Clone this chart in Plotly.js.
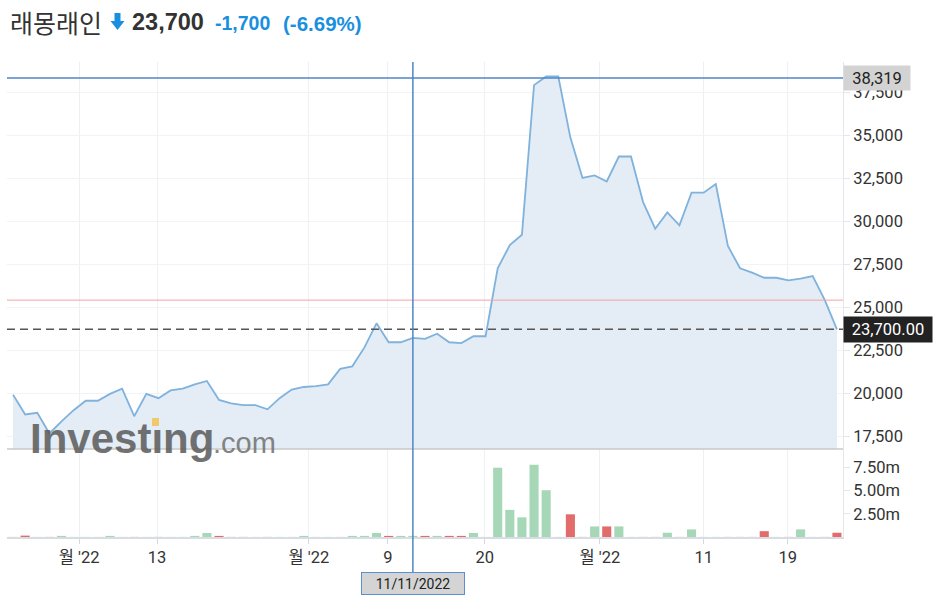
<!DOCTYPE html>
<html><head><meta charset="utf-8">
<script src="https://cdn.plot.ly/plotly-3.0.1.min.js"></script>
<style>html,body{margin:0;padding:0;background:#fff;}#chart{width:938px;height:602px;}</style>
</head><body><div id="chart"></div>
<script>
// ---- data ----
const prices = [19900, 18750, 18850, 17650, 18350, 19000, 19550, 19550, 19950, 20250,
  18650, 19950, 19700, 20150, 20250, 20500, 20700, 19600, 19400, 19300,
  19300, 19050, 19700, 20200, 20350, 20400, 20500, 21400, 21550, 22650,
  24050, 22950, 22950, 23200, 23150, 23450, 22950, 22900, 23300, 23300,
  27250, 28600, 29200, 37900, 38400, 38400, 34850, 32500, 32650, 32300,
  33750, 33750, 31100, 29550, 30500, 29750, 31650, 31650, 32150, 28550,
  27250, 27000, 26700, 26700, 26550, 26650, 26800, 25400, 23700];
// volume in millions
const volumes = [0.01, 0.15, 0.01, 0.01, 0.12, 0.01, 0.01, 0.01, 0.12, 0.01,
  0.01, 0.01, 0.01, 0.01, 0.01, 0.12, 0.43, 0.12, 0.01, 0.01,
  0.01, 0.01, 0.01, 0.01, 0.12, 0.01, 0.01, 0.01, 0.12, 0.12,
  0.43, 0.12, 0.12, 0.12, 0.12, 0.12, 0.12, 0.12, 0.43, 0.01,
  7.48, 2.93, 2.12, 7.80, 5.05, 0.01, 2.45, 0.01, 1.14, 1.14,
  1.14, 0.01, 0.01, 0.01, 0.46, 0.01, 0.82, 0.01, 0.01, 0.01,
  0.01, 0.01, 0.63, 0.01, 0.01, 0.82, 0.01, 0.01, 0.46];
const tickPositions = [5.45, 11.88, 24.42, 30.94, 38.94, 48.43, 57.01, 63.94];
const tickLabels = ["월 '22", "13", "월 '22", "9", "20", "월 '22", "11", "19"];
const priceTicks = [17500, 20000, 22500, 25000, 27500, 30000, 32500, 35000, 37500];
const volumeTicks = [2.5, 5, 7.5];
const volumeTickLabels = ["2.50m", "5.00m", "7.50m"];
const prevClose = 25400;
const lastPrice = 23700;
const crosshairIndex = 33;
const crosshairPrice = 38319;
const crosshairDate = "11/11/2022";
const stockName = "래몽래인";
const lastPriceText = "23,700";
const changeText = "-1,700";
const changePctText = "(-6.69%)";

// ---- geometry helpers ----
const W = 938, H = 602, ML = 7, MR = 95, MT = 62, MB = 65;
const plotW = W - ML - MR, plotH = H - MT - MB;
const pxX = px => (px - ML) / plotW;
const pxY = py => (H - MB - py) / plotH;
const split = pxY(449);

const idx = prices.map((_, i) => i);
const GREEN = '#a6d7b6', RED = '#e26b6b';
const barColors = prices.map((p, i) => (i > 0 && p < prices[i - 1]) ? RED : GREEN);

const FONT = "Roboto, 'Noto Sans CJK KR', sans-serif";
const BLUE = '#1a8fe0';
const CROSS = '#4d86c7';

// down-arrow icon path (paper coordinates)
const arrowPts = [[114.5,13],[120.5,13],[120.5,21],[124.5,21],[117.5,30],[110.5,21],[114.5,21]];
const arrowPath = 'M' + arrowPts.map(p => pxX(p[0]).toFixed(5) + ',' + pxY(p[1]).toFixed(5)).join(' L') + ' Z';

const traces = [
  {type: 'scatter', mode: 'lines', x: idx, y: prices, xaxis: 'x', yaxis: 'y',
   line: {color: '#7fb2dc', width: 1.8}, fill: 'tozeroy', fillcolor: '#e4edf5', hoverinfo: 'skip'},
  {type: 'bar', x: idx, y: volumes, xaxis: 'x', yaxis: 'y2',
   marker: {color: barColors, line: {width: 0}}, hoverinfo: 'skip'}
];

const tickFont = {family: FONT, size: 16.5, color: '#333'};
const layout = {
  width: W, height: H,
  margin: {l: ML, r: MR, t: MT, b: MB, pad: 0},
  paper_bgcolor: '#fff', plot_bgcolor: '#fff',
  showlegend: false, hovermode: false, bargap: 0.25,
  xaxis: {range: [-0.5, prices.length - 0.5], anchor: 'y2', tickmode: 'array',
    tickvals: tickPositions, ticktext: tickLabels, showgrid: true, gridcolor: '#eef0f3',
    ticks: 'outside', ticklen: 5, tickcolor: '#d5d9df', showline: true, linecolor: '#d8dce3',
    linewidth: 1.5, zeroline: false, tickfont: tickFont, fixedrange: true},
  yaxis: {domain: [split, 1], side: 'right', anchor: 'x', range: [16744, 39244],
    tickmode: 'array', tickvals: priceTicks, tickformat: ',d', showgrid: true, gridcolor: '#f2f3f5',
    ticks: 'outside', ticklen: 6, tickcolor: '#e3e6ea', showline: true, linecolor: '#e3e6ea',
    zeroline: false, tickfont: tickFont, fixedrange: true},
  yaxis2: {domain: [0, split], side: 'right', anchor: 'x', range: [0, 9.5],
    tickmode: 'array', tickvals: volumeTicks, ticktext: volumeTickLabels, showgrid: false,
    ticks: 'outside', ticklen: 6, tickcolor: '#e3e6ea', showline: true, linecolor: '#e3e6ea',
    zeroline: false, tickfont: tickFont, fixedrange: true},
  shapes: [
    {type: 'line', xref: 'paper', yref: 'paper', x0: 0, x1: 1, y0: split, y1: split,
     line: {color: '#c9c9c9', width: 1.5}},
    {type: 'line', xref: 'paper', yref: 'y', x0: 0, x1: 1, y0: prevClose, y1: prevClose,
     line: {color: '#f4a3a3', width: 1}},
    {type: 'line', xref: 'paper', yref: 'y', x0: 0, x1: 1, y0: lastPrice, y1: lastPrice,
     line: {color: '#555', width: 1.5, dash: '8px,5px'}},
    {type: 'line', xref: 'paper', yref: 'y', x0: 0, x1: 1, y0: crosshairPrice, y1: crosshairPrice,
     line: {color: CROSS, width: 1.5}},
    {type: 'line', xref: 'x', yref: 'paper', x0: crosshairIndex, x1: crosshairIndex, y0: pxY(572), y1: 1,
     line: {color: CROSS, width: 1.5}},
    {type: 'rect', xref: 'paper', yref: 'paper', x0: pxX(152), x1: pxX(159), y0: pxY(426), y1: pxY(418),
     fillcolor: '#f2c45e', line: {width: 0}, opacity: 0.9},
    {type: 'path', xref: 'paper', yref: 'paper', path: arrowPath, fillcolor: BLUE, line: {width: 0}}
  ],
  annotations: [
    {xref: 'paper', yref: 'paper', x: pxX(8), y: pxY(22), xanchor: 'left', yanchor: 'middle',
     text: stockName, showarrow: false, font: {family: "'Noto Sans CJK KR', sans-serif", size: 25, color: '#333'}},
    {xref: 'paper', yref: 'paper', x: pxX(130), y: pxY(22), xanchor: 'left', yanchor: 'middle',
     text: '<b>' + lastPriceText + '</b>', showarrow: false, font: {family: "'Liberation Sans', Arial, sans-serif", size: 23.5, color: '#333'}},
    {xref: 'paper', yref: 'paper', x: pxX(213), y: pxY(23), xanchor: 'left', yanchor: 'middle',
     text: '<b>' + changeText + '</b>', showarrow: false, font: {family: "'Liberation Sans', Arial, sans-serif", size: 19.5, color: BLUE}},
    {xref: 'paper', yref: 'paper', x: pxX(281), y: pxY(23), xanchor: 'left', yanchor: 'middle',
     text: '<b>' + changePctText + '</b>', showarrow: false, font: {family: "'Liberation Sans', Arial, sans-serif", size: 20.5, color: BLUE}},
    // watermark
    {xref: 'paper', yref: 'paper', x: pxX(28), y: pxY(438), xanchor: 'left', yanchor: 'middle',
     text: '<b>Investıng</b>', showarrow: false, opacity: 0.85,
     font: {family: "'Liberation Sans', Arial, sans-serif", size: 42, color: '#5a5a5a'}},
    {xref: 'paper', yref: 'paper', x: pxX(211), y: pxY(443), xanchor: 'left', yanchor: 'middle',
     text: '.com', showarrow: false, opacity: 0.85,
     font: {family: "'Liberation Sans', Arial, sans-serif", size: 29, color: '#707070'}},
    // crosshair / price labels
    {xref: 'paper', yref: 'y', x: 1, y: crosshairPrice, xanchor: 'left', yanchor: 'middle',
     text: crosshairPrice.toLocaleString('en-US'), showarrow: false, bgcolor: '#d3d3d3',
     width: 64, height: 22, borderpad: 1, font: {family: FONT, size: 16.5, color: '#222'}},
    {xref: 'paper', yref: 'y', x: 1, y: lastPrice, xanchor: 'left', yanchor: 'middle',
     text: lastPrice.toLocaleString('en-US', {minimumFractionDigits: 2}), showarrow: false, bgcolor: '#222',
     width: 86, height: 23, borderpad: 1, font: {family: FONT, size: 16.5, color: '#fff'}},
    {xref: 'x', yref: 'paper', x: crosshairIndex, y: pxY(583.5), xanchor: 'center', yanchor: 'middle',
     text: crosshairDate, showarrow: false, bgcolor: '#d4d4d4', bordercolor: '#5b8fd1', borderwidth: 1,
     width: 100, height: 19, borderpad: 1, font: {family: FONT, size: 14, color: '#222'}}
  ]
};

Plotly.newPlot('chart', traces, layout, {staticPlot: true, displayModeBar: false});
</script></body></html>
